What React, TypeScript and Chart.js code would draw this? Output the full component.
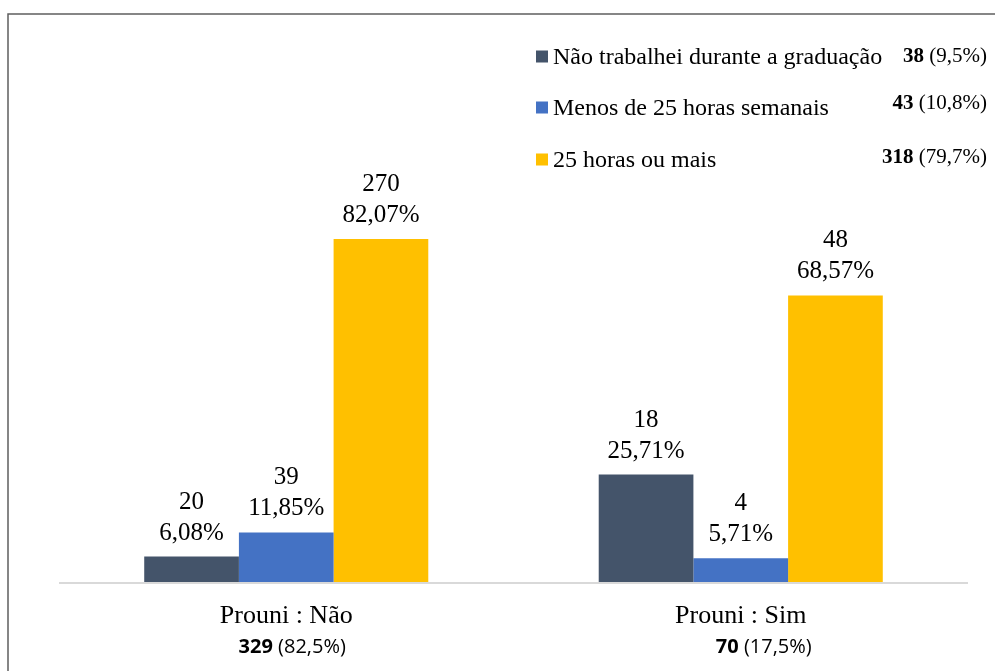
import React, { useEffect, useRef } from 'react';
import { Chart, registerables } from 'chart.js';

Chart.register(...registerables);

const categories = ['Prouni : Não', 'Prouni : Sim'];
const categoryTotals = [329, 70];
const categoryShares = ['82,5%', '17,5%'];

const seriesNames = [
  'Não trabalhei durante a graduação',
  'Menos de 25 horas semanais',
  '25 horas ou mais',
];
const seriesTotals = [38, 43, 318];
const seriesShares = ['9,5%', '10,8%', '79,7%'];

const notWorkedCounts = [20, 18];
const notWorkedPct = [6.08, 25.71];
const under25Counts = [39, 4];
const under25Pct = [11.85, 5.71];
const over25Counts = [270, 48];
const over25Pct = [82.07, 68.57];

const seriesColors = ['#44546A', '#4472C4', '#FFC000'];

const seriesCounts = [notWorkedCounts, under25Counts, over25Counts];
const seriesPct = [notWorkedPct, under25Pct, over25Pct];

const SERIF = '"Liberation Serif", "Times New Roman", serif';
const SANS = '"Open Sans", "Noto Sans", sans-serif';

const fmtPct = (v: number) => v.toFixed(2).replace('.', ',') + '%';

const decorPlugin = {
  id: 'decor',
  beforeDatasetsDraw(chart: any) {
    const { ctx, chartArea } = chart;
    ctx.save();
    // axis line
    ctx.strokeStyle = '#d9d9d9';
    ctx.lineWidth = 2;
    ctx.beginPath();
    ctx.moveTo(chartArea.left, chartArea.bottom + 1);
    ctx.lineTo(chartArea.right, chartArea.bottom + 1);
    ctx.stroke();
    ctx.restore();
  },
  afterDatasetsDraw(chart: any) {
    const { ctx, chartArea } = chart;
    ctx.save();
    // bar value labels
    ctx.fillStyle = '#000';
    ctx.textAlign = 'center';
    ctx.textBaseline = 'alphabetic';
    ctx.font = `25px ${SERIF}`;
    chart.data.datasets.forEach((ds: any, di: number) => {
      const meta = chart.getDatasetMeta(di);
      meta.data.forEach((el: any, i: number) => {
        const count = seriesCounts[di][i];
        const pct = seriesPct[di][i];
        ctx.fillText(String(count), el.x, el.y - 48);
        ctx.fillText(fmtPct(pct), el.x, el.y - 17);
      });
    });

    // category labels
    const xScale = chart.scales.x;
    const totalsShift = [6, 23];
    const tSize = 20;
    categories.forEach((c, i) => {
      const cx = xScale.getPixelForValue(i);
      ctx.font = `26px ${SERIF}`;
      ctx.textAlign = 'center';
      ctx.fillText(c, cx, chartArea.bottom + 41);
      // totals: bold number + normal share
      const boldTxt = String(categoryTotals[i]);
      const normTxt = ' (' + categoryShares[i] + ')';
      ctx.font = `bold ${tSize}px ${SANS}`;
      const wb = ctx.measureText(boldTxt).width;
      ctx.font = `${tSize}px ${SANS}`;
      const wn = ctx.measureText(normTxt).width;
      const start = cx + totalsShift[i] - (wb + wn) / 2;
      ctx.textAlign = 'left';
      ctx.font = `bold ${tSize}px ${SANS}`;
      ctx.fillText(boldTxt, start, chartArea.bottom + 71);
      ctx.font = `${tSize}px ${SANS}`;
      ctx.fillText(normTxt, start + wb, chartArea.bottom + 71);
    });

    // legend
    const legendBase = [64, 115, 167];
    const countBase = [62, 109, 163];
    chart.data.datasets.forEach((ds: any, di: number) => {
      ctx.fillStyle = ds.backgroundColor;
      ctx.fillRect(536, legendBase[di] - 13.5, 12, 12);
      ctx.fillStyle = '#000';
      ctx.textAlign = 'left';
      ctx.font = `24px ${SERIF}`;
      ctx.fillText(ds.label, 553, legendBase[di]);
      // right side totals
      const boldTxt = String(seriesTotals[di]);
      const normTxt = ' (' + seriesShares[di] + ')';
      ctx.font = `21px ${SERIF}`;
      const wn = ctx.measureText(normTxt).width;
      ctx.font = `bold 21px ${SERIF}`;
      const wb = ctx.measureText(boldTxt).width;
      const right = 987;
      ctx.fillText(boldTxt, right - wn - wb, countBase[di]);
      ctx.font = `21px ${SERIF}`;
      ctx.fillText(normTxt, right - wn, countBase[di]);
    });

    // frame
    ctx.strokeStyle = '#5f5f5f';
    ctx.lineWidth = 1.5;
    ctx.beginPath();
    ctx.moveTo(8, chart.height);
    ctx.lineTo(8, 14);
    ctx.lineTo(chart.width, 14);
    ctx.stroke();
    ctx.restore();
  },
};

export default function App() {
  const ref = useRef<HTMLCanvasElement | null>(null);
  useEffect(() => {
    if (!ref.current) return;
    const chart = new Chart(ref.current, {
      type: 'bar',
      data: {
        labels: categories,
        datasets: seriesNames.map((name, i) => ({
          label: name,
          data: seriesPct[i],
          backgroundColor: seriesColors[i],
          borderWidth: 0,
          categoryPercentage: 0.625,
          barPercentage: 1.0,
        })),
      },
      options: {
        responsive: false,
        animation: false,
        events: [],
        layout: { padding: { left: 59, right: 27, top: 164, bottom: 89 } },
        plugins: {
          legend: { display: false },
          title: { display: false },
          tooltip: { enabled: false },
        },
        scales: {
          x: { display: false },
          y: { display: false, min: 0, max: 100 },
        },
      },
      plugins: [decorPlugin],
    });
    return () => chart.destroy();
  }, []);
  return (
    <div style={{ position: 'fixed', left: 0, top: 0, width: 995, height: 671, background: '#fff' }}>
      <canvas ref={ref} width={995} height={671} style={{ width: 995, height: 671, display: 'block' }} />
    </div>
  );
}
